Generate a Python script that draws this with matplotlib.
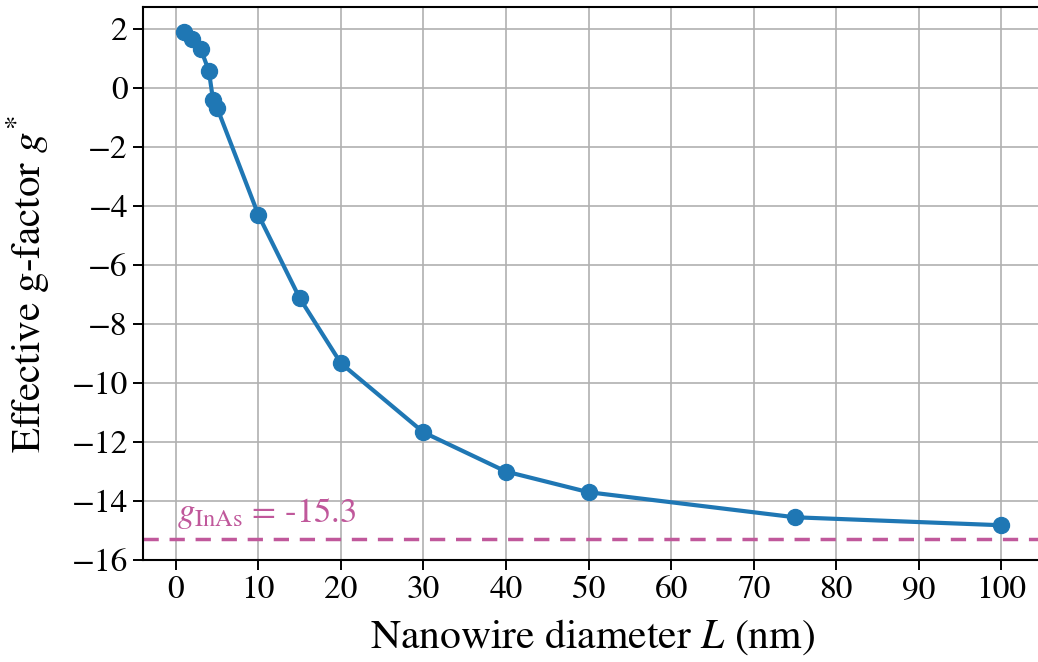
import matplotlib
matplotlib.use("Agg")
import matplotlib.pyplot as plt

plt.rcParams['font.family'] = ['STIXGeneral', 'Liberation Serif', 'DejaVu Serif']
plt.rcParams['mathtext.fontset'] = 'stix'

diameters = [1, 2, 3, 4, 4.5, 5, 10, 15, 20, 30, 40, 50, 75, 100]
g_factor = [1.89, 1.65, 1.34, 0.58, -0.39, -0.67, -4.3, -7.12, -9.33, -11.67, -13.0, -13.7, -14.55, -14.82]
g_bulk = -15.3
x_ticks = list(range(0, 101, 10))
y_ticks = list(range(-16, 3, 2))

fig = plt.figure(figsize=(10.38, 6.62), dpi=100)
ax = fig.add_axes([0.138, 0.154, 0.866, 0.835])

ax.grid(True, color='#b0b0b0', linewidth=1.2, zorder=0)
ax.axhline(g_bulk, color='#c0589b', linewidth=2.5, dashes=(4.4, 3.1), zorder=2)
ax.plot(diameters, g_factor, color='#1f77b4', linewidth=3, marker='o', markersize=11.5, zorder=3)
ax.text(0.2, g_bulk + 0.28, r'$g_{\mathrm{InAs}}$ = -15.3', color='#c0589b', fontsize=25,
        ha='left', va='bottom')

ax.set_xlim(-3.95, 104.95)
ax.set_ylim(-16, 2.74)
ax.set_xticks(x_ticks)
ax.set_yticks(y_ticks)
ax.tick_params(labelsize=24, width=1.4, length=7.5)
for s in ax.spines.values():
    s.set_linewidth(1.5)
ax.set_xlabel(r'Nanowire diameter $L$ (nm)', fontsize=30, labelpad=9)
ax.set_ylabel(r'Effective g-factor $g^{*}$', fontsize=29.5)
ax.yaxis.set_label_coords(-0.103, 0.5)

fig.savefig('out.png', dpi=100)
